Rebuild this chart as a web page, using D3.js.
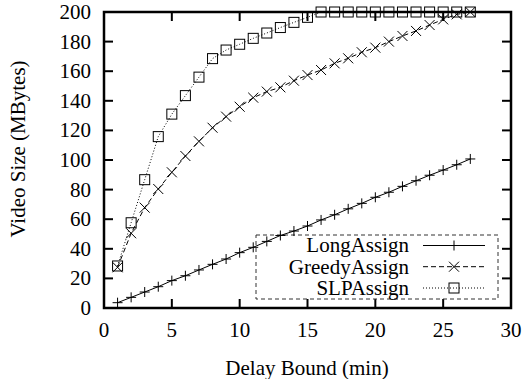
<!DOCTYPE html>
<html><head><meta charset="utf-8">
<script src="https://cdn.jsdelivr.net/npm/d3@7/dist/d3.min.js"></script>
<style>html,body{margin:0;padding:0;background:#fff}svg{display:block}</style>
</head><body>
<svg id="c" width="526" height="379"></svg>
<script>
const delays = [1,2,3,4,5,6,7,8,9,10,11,12,13,14,15,16,17,18,19,20,21,22,23,24,25,26,27];
const longAssign = [3.6,7.2,10.8,14.4,18.5,21.8,25.7,29.5,33.1,37.4,41,45,49,52,55.4,59.5,63,67,70.7,74.8,78.2,82.2,86,89.7,93.2,96.8,100.7];
const greedyAssign = [27.5,50.5,67.8,80.4,91.7,102.7,112.6,121.8,129.3,136,142.1,146.2,149.1,153.6,157.4,160.8,165.3,168.7,172.8,175.9,180,183.8,187.2,191.2,195,198.4,200];
const slpAssign = [28.4,57.6,86.7,115.8,131,143.5,156,168.5,174.3,178.2,182.2,185.8,189.5,193,196.4,200,200,200,200,200,200,200,200,200,200,200,200];
const seriesNames = ["LongAssign","GreedyAssign","SLPAssign"];
const xTicks = [0,5,10,15,20,25,30];
const yTicks = [0,20,40,60,80,100,120,140,160,180,200];
const xTitle = "Delay Bound (min)";
const yTitle = "Video Size (MBytes)";

const svg = d3.select("#c");
const x = d3.scaleLinear().domain([0,30]).range([104,511]);
const y = d3.scaleLinear().domain([0,200]).range([308,12]);
const TL = 9;
function txt(sel){
  return sel.append("text").attr("font-family","Liberation Serif").style("font-family",'"Liberation Serif", serif').style("font-size","21px").attr("fill","#000");
}

const g = svg.append("g");
xTicks.forEach(t=>{
  g.append("line").attr("x1",x(t)).attr("x2",x(t)).attr("y1",y(0)).attr("y2",y(0)-TL).attr("stroke","#000").attr("stroke-width",2);
  g.append("line").attr("x1",x(t)).attr("x2",x(t)).attr("y1",y(200)).attr("y2",y(200)+TL).attr("stroke","#000").attr("stroke-width",2);
  txt(g).attr("x",x(t)).attr("y",337).attr("text-anchor","middle").text(t);
});
yTicks.forEach(t=>{
  g.append("line").attr("x1",x(0)).attr("x2",x(0)+TL).attr("y1",y(t)).attr("y2",y(t)).attr("stroke","#000").attr("stroke-width",2);
  g.append("line").attr("x1",x(30)).attr("x2",x(30)-TL).attr("y1",y(t)).attr("y2",y(t)).attr("stroke","#000").attr("stroke-width",2);
  txt(g).attr("x",91).attr("y",y(t)).attr("dy","0.33em").attr("text-anchor","end").text(t);
});
svg.append("rect").attr("x",x(0)).attr("y",y(200)).attr("width",x(30)-x(0)).attr("height",y(0)-y(200))
  .attr("fill","none").attr("stroke","#000").attr("stroke-width",2.5);

txt(svg).attr("x",307).attr("y",374.5).attr("text-anchor","middle").text(xTitle);
txt(svg).attr("transform","translate(25,149) rotate(-90)").attr("text-anchor","middle").text(yTitle);

svg.append("rect").attr("x",256).attr("y",235).attr("width",242).attr("height",64)
  .attr("fill","none").attr("stroke","#333").attr("stroke-width",1).attr("stroke-dasharray","4,3");

const dashes = ["none","5,3","1,2"];
const data = [longAssign, greedyAssign, slpAssign];
const S = 5;
function marker(sel, k){
  if(k===0){
    sel.append("path").attr("d",`M${-S},0H${S}M0,${-S}V${S}`);
  } else if(k===1){
    sel.append("path").attr("d",`M${-S},${-S}L${S},${S}M${-S},${S}L${S},${-S}`);
  } else {
    sel.append("rect").attr("x",-S).attr("y",-S).attr("width",2*S).attr("height",2*S).attr("fill","none");
  }
}
const line = d3.line().x((d,i)=>x(delays[i])).y(d=>y(d));
data.forEach((vals,k)=>{
  svg.append("path").attr("d",line(vals)).attr("fill","none").attr("stroke","#000")
    .attr("stroke-width",1).attr("stroke-dasharray",dashes[k]);
  vals.forEach((v,i)=>{
    const m = svg.append("g").attr("transform",`translate(${x(delays[i])},${y(v)})`)
      .attr("stroke","#000").attr("stroke-width",1).attr("fill","none");
    marker(m,k);
  });
  const ly = [245.5,266.7,288][k];
  txt(svg).attr("x",409).attr("y",ly).attr("dy","0.33em").attr("text-anchor","end").text(seriesNames[k]);
  svg.append("line").attr("x1",423).attr("x2",485).attr("y1",ly).attr("y2",ly)
    .attr("stroke","#000").attr("stroke-width",1).attr("stroke-dasharray",dashes[k]);
  const lm = svg.append("g").attr("transform",`translate(454,${ly})`)
    .attr("stroke","#000").attr("stroke-width",1).attr("fill","none");
  marker(lm,k);
});
</script>
</body></html>
